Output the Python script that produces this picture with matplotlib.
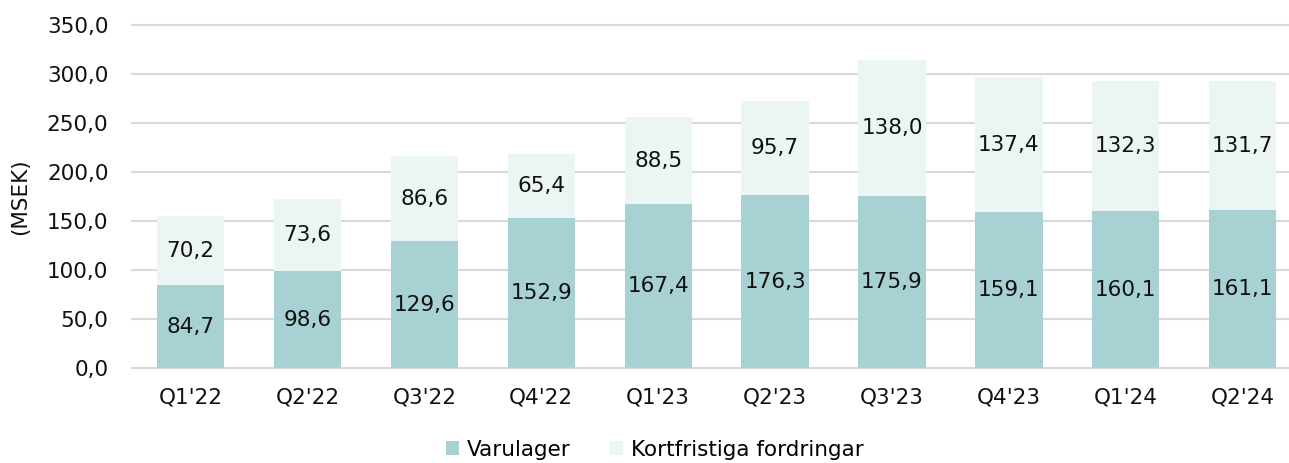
import matplotlib.pyplot as plt
import numpy as np

plt.rcParams['font.family'] = ['DejaVu Sans']

quarters = ["Q1'22", "Q2'22", "Q3'22", "Q4'22", "Q1'23", "Q2'23", "Q3'23", "Q4'23", "Q1'24", "Q2'24"]
varulager = [84.7, 98.6, 129.6, 152.9, 167.4, 176.3, 175.9, 159.1, 160.1, 161.1]
fordringar = [70.2, 73.6, 86.6, 65.4, 88.5, 95.7, 138.0, 137.4, 132.3, 131.7]

c_dark = '#A7D1D2'
c_light = '#EBF5F4'

def fmt(v):
    return ('%.1f' % v).replace('.', ',')

fig = plt.figure(figsize=(12.89, 4.63), dpi=100)
ax = fig.add_axes([0.1024, 0.205, 0.898, 0.741])

x = np.arange(len(quarters))
w = 0.575
b1 = ax.bar(x, varulager, w, color=c_dark, label='Varulager', zorder=3)
b2 = ax.bar(x, fordringar, w, bottom=varulager, color=c_light, label='Kortfristiga fordringar', zorder=3)

for i in range(len(x)):
    ax.text(x[i], varulager[i] / 2, fmt(varulager[i]), ha='center', va='center', fontsize=15.5, color='#111111', zorder=4)
    ax.text(x[i], varulager[i] + fordringar[i] / 2, fmt(fordringar[i]), ha='center', va='center', fontsize=15.5, color='#111111', zorder=4)

ax.set_ylim(0, 350)
ax.set_xlim(-0.5, len(x) - 0.6)
ax.set_yticks(np.arange(0, 351, 50))
ax.set_yticklabels([fmt(v) for v in np.arange(0, 351, 50)])
ax.set_xticks(x)
ax.set_xticklabels(quarters)
ax.tick_params(axis='both', length=0, labelsize=15.5, colors='#111111')
ax.tick_params(axis='y', pad=17)
ax.tick_params(axis='x', pad=14)
ax.yaxis.grid(True, color='#D9D9D9', linewidth=1.5, zorder=0)
for gl in ax.get_ygridlines():
    gl.set_clip_on(False)
for s in ax.spines.values():
    s.set_visible(False)
ax.set_ylabel('(MSEK)', fontsize=15.5, color='#111111', labelpad=12)

fig.legend(handles=[b1, b2], loc='lower center', bbox_to_anchor=(0.508, -0.035), ncol=2, frameon=False,
           fontsize=15.5, handlelength=0.6, handleheight=0.6, columnspacing=1.8, handletextpad=0.4)

plt.savefig('out.png', dpi=100)
